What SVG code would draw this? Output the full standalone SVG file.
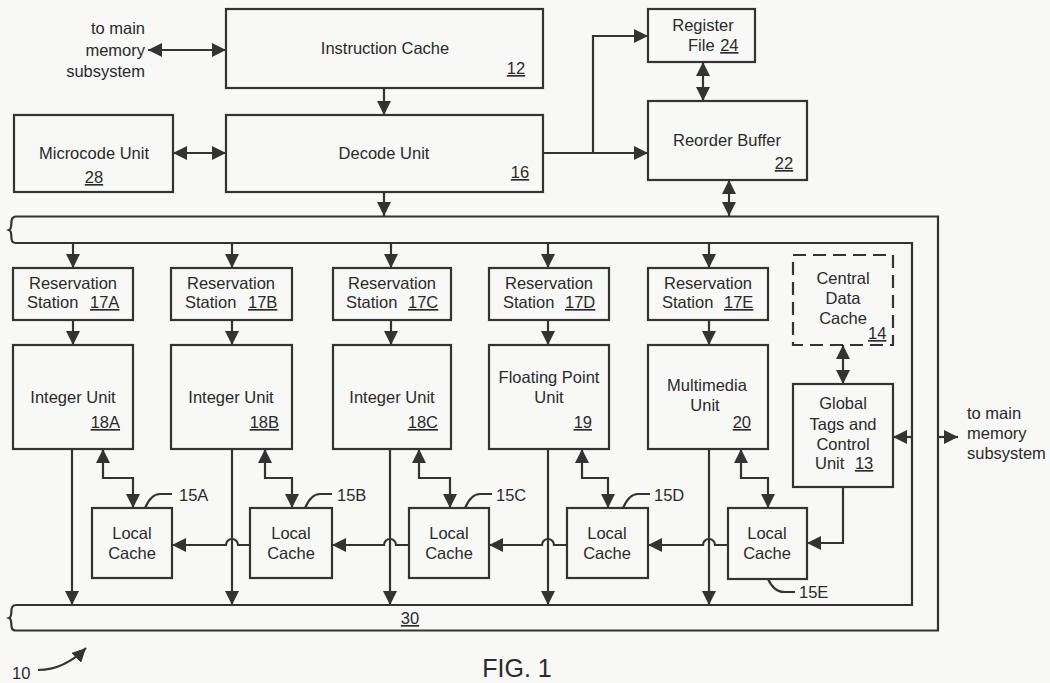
<svg xmlns="http://www.w3.org/2000/svg" width="1050" height="683" viewBox="0 0 1050 683">
<style>
.b{fill:none;stroke:#333;stroke-width:2.2}
.d{fill:none;stroke:#333;stroke-width:2.2;stroke-dasharray:13 7}
.l{fill:none;stroke:#333;stroke-width:2.2}
.a{marker-end:url(#ah)}
.aa{marker-start:url(#ah);marker-end:url(#ah)}
text{font-family:"Liberation Sans",Arial,sans-serif;font-size:16.5px;fill:#2a2a2a}
.m{text-anchor:middle}
.e{text-anchor:end}
.u{text-decoration:underline}
</style>
<defs>
<marker id="ah" markerUnits="userSpaceOnUse" markerWidth="14" markerHeight="14" refX="12" refY="6" orient="auto-start-reverse" viewBox="0 0 12 12">
<path d="M0,0 L12,6 L0,12 z" fill="#333"/>
</marker>
</defs>
<rect width="1050" height="683" fill="#f8f8f6"/>

<g id="bus30">
<path class="l" d="M16,216.5 L938,216.5 L938,630.5 L16,630.5"/>
<path class="l" d="M16,243 L912,243 L912,605 L16,605"/>
<path class="l" d="M16,216.5 C8,217 14,228 9,230 C14,232 8,243 16,243"/>
<path class="l" d="M16,605 C8,605.5 14,616 9,618 C14,620 8,630.5 16,630.5"/>
<text class="m u" x="410" y="624">30</text>
</g>

<g id="instruction-cache">
<rect class="b" x="226" y="9" width="317" height="79"/>
<text class="m" x="385" y="54">Instruction Cache</text>
<text class="m u" x="516" y="74">12</text>
</g>
<g id="decode-unit">
<rect class="b" x="226" y="115" width="317" height="77"/>
<text class="m" x="384" y="159">Decode Unit</text>
<text class="m u" x="520" y="178">16</text>
</g>
<g id="microcode-unit">
<rect class="b" x="14" y="115" width="159" height="77"/>
<text class="m" x="94" y="159">Microcode Unit</text>
<text class="m u" x="94" y="183">28</text>
</g>
<g id="register-file">
<rect class="b" x="648" y="9" width="107" height="53"/>
<text class="m" x="703" y="31">Register</text>
<text x="688" y="51">File <tspan class="u" dx="1">24</tspan></text>
</g>
<g id="reorder-buffer">
<rect class="b" x="648" y="101" width="159" height="79"/>
<text class="m" x="727" y="146">Reorder Buffer</text>
<text class="m u" x="784" y="169">22</text>
</g>
<g id="mem-label-top">
<text class="e" x="145" y="34">to main</text>
<text class="e" x="145" y="56">memory</text>
<text class="e" x="145" y="77">subsystem</text>
</g>

<g id="rs-17A">
<rect class="b" x="13" y="268" width="120" height="52"/>
<text class="m" x="73" y="289">Reservation</text>
<text x="27" y="308">Station</text><text class="u" x="90" y="308">17A</text>
</g>
<g id="rs-17B">
<rect class="b" x="171" y="268" width="121" height="52"/>
<text class="m" x="231" y="289">Reservation</text>
<text x="185" y="308">Station</text><text class="u" x="248" y="308">17B</text>
</g>
<g id="rs-17C">
<rect class="b" x="333" y="268" width="118" height="52"/>
<text class="m" x="392" y="289">Reservation</text>
<text x="346" y="308">Station</text><text class="u" x="408" y="308">17C</text>
</g>
<g id="rs-17D">
<rect class="b" x="489" y="268" width="120" height="52"/>
<text class="m" x="549" y="289">Reservation</text>
<text x="503" y="308">Station</text><text class="u" x="565" y="308">17D</text>
</g>
<g id="rs-17E">
<rect class="b" x="648" y="268" width="120" height="52"/>
<text class="m" x="708" y="289">Reservation</text>
<text x="662" y="308">Station</text><text class="u" x="724" y="308">17E</text>
</g>

<g id="iu-18A">
<rect class="b" x="13" y="345" width="120" height="104"/>
<text class="m" x="73" y="403">Integer Unit</text>
<text class="e u" x="120" y="428">18A</text>
</g>
<g id="iu-18B">
<rect class="b" x="171" y="345" width="121" height="104"/>
<text class="m" x="231" y="403">Integer Unit</text>
<text class="e u" x="279" y="428">18B</text>
</g>
<g id="iu-18C">
<rect class="b" x="333" y="345" width="118" height="104"/>
<text class="m" x="392" y="403">Integer Unit</text>
<text class="e u" x="438" y="428">18C</text>
</g>
<g id="fpu-19">
<rect class="b" x="489" y="345" width="120" height="104"/>
<text class="m" x="549" y="383">Floating Point</text>
<text class="m" x="549" y="403">Unit</text>
<text class="e u" x="592" y="428">19</text>
</g>
<g id="mmu-20">
<rect class="b" x="648" y="345" width="120" height="104"/>
<text class="m" x="707" y="391">Multimedia</text>
<text class="m" x="705" y="411">Unit</text>
<text class="e u" x="751" y="428">20</text>
</g>

<g id="central-data-cache-14">
<rect class="d" x="793" y="255" width="100" height="90"/>
<text class="m" x="843" y="284">Central</text>
<text class="m" x="843" y="304">Data</text>
<text class="m" x="843" y="324">Cache</text>
<text class="u" x="868" y="339">14</text>
</g>
<g id="global-tags-13">
<rect class="b" x="793" y="384" width="100" height="103"/>
<text class="m" x="843" y="409">Global</text>
<text class="m" x="843" y="430">Tags and</text>
<text class="m" x="843" y="450">Control</text>
<text x="815" y="469">Unit <tspan class="u" dx="6">13</tspan></text>
</g>
<g id="mem-label-right">
<text x="967" y="419">to main</text>
<text x="967" y="439">memory</text>
<text x="967" y="459">subsystem</text>
</g>

<g id="lc-15A">
<rect class="b" x="92" y="508" width="80" height="70"/>
<text class="m" x="132" y="539">Local</text>
<text class="m" x="132" y="559">Cache</text>
<path class="l" d="M145,508 Q151,494 160,494 L172,494" stroke-width="1.8"/>
<text x="179" y="501">15A</text>
</g>
<g id="lc-15B">
<rect class="b" x="250" y="508" width="82" height="70"/>
<text class="m" x="291" y="539">Local</text>
<text class="m" x="291" y="559">Cache</text>
<path class="l" d="M305,508 Q311,494 320,494 L332,494" stroke-width="1.8"/>
<text x="337" y="501">15B</text>
</g>
<g id="lc-15C">
<rect class="b" x="409" y="508" width="80" height="70"/>
<text class="m" x="449" y="539">Local</text>
<text class="m" x="449" y="559">Cache</text>
<path class="l" d="M465,508 Q471,494 480,494 L492,494" stroke-width="1.8"/>
<text x="496" y="501">15C</text>
</g>
<g id="lc-15D">
<rect class="b" x="567" y="508" width="81" height="70"/>
<text class="m" x="607" y="539">Local</text>
<text class="m" x="607" y="559">Cache</text>
<path class="l" d="M623,508 Q629,494 638,494 L650,494" stroke-width="1.8"/>
<text x="654" y="501">15D</text>
</g>
<g id="lc-15E">
<rect class="b" x="728" y="508" width="79" height="71"/>
<text class="m" x="767" y="539">Local</text>
<text class="m" x="767" y="559">Cache</text>
<path class="l" d="M768,579 Q774,592 784,592 L795,592" stroke-width="1.8"/>
<text x="799" y="598">15E</text>
</g>

<g id="ref-10">
<text x="12" y="679">10</text>
<path class="l a" d="M38,670 C56,670 72,662 86,648"/>
</g>
<text class="m" x="517" y="677" style="font-size:25px">FIG. 1</text>

<g id="connectors">
<path class="l aa" d="M148,50 L226,50"/>
<path class="l aa" d="M173,153 L226,153"/>
<path class="l a" d="M384,88 L384,115"/>
<path class="l a" d="M384,192 L384,216"/>
<path class="l a" d="M543,153 L648,153"/>
<path class="l a" d="M593,153 L593,36 L648,36"/>
<path class="l aa" d="M703,62 L703,101"/>
<path class="l aa" d="M729,180 L729,216"/>

<path class="l a" d="M73,243 L73,268"/>
<path class="l a" d="M232,243 L232,268"/>
<path class="l a" d="M391,243 L391,268"/>
<path class="l a" d="M548,243 L548,268"/>
<path class="l a" d="M709,243 L709,268"/>

<path class="l a" d="M73,320 L73,345"/>
<path class="l a" d="M232,320 L232,345"/>
<path class="l a" d="M391,320 L391,345"/>
<path class="l a" d="M548,320 L548,345"/>
<path class="l a" d="M709,320 L709,345"/>

<path class="l a" d="M72,449 L72,605"/>
<path class="l a" d="M232,449 L232,605"/>
<path class="l a" d="M390,449 L390,605"/>
<path class="l a" d="M548,449 L548,605"/>
<path class="l a" d="M709,449 L709,605"/>

<path class="l aa" d="M103,449 L103,478 L133,478 L133,508"/>
<path class="l aa" d="M265,449 L265,478 L292,478 L292,508"/>
<path class="l aa" d="M419,449 L419,478 L450,478 L450,508"/>
<path class="l aa" d="M582,449 L582,478 L608,478 L608,508"/>
<path class="l aa" d="M741,449 L741,478 L768,478 L768,508"/>

<path class="l a" d="M250,545 L238,545 A6,6 0 0 0 226,545 L172,545"/>
<path class="l a" d="M409,545 L396,545 A6,6 0 0 0 384,545 L332,545"/>
<path class="l a" d="M567,545 L554,545 A6,6 0 0 0 542,545 L489,545"/>
<path class="l a" d="M728,545 L715,545 A6,6 0 0 0 703,545 L648,545"/>
<path class="l a" d="M843,487 L843,543 L807,543"/>

<path class="l aa" d="M843,345 L843,384"/>
<path class="l a" d="M912,437 L893,437"/>
<path class="l a" d="M938,437 L958,437"/>
</g>
</svg>
